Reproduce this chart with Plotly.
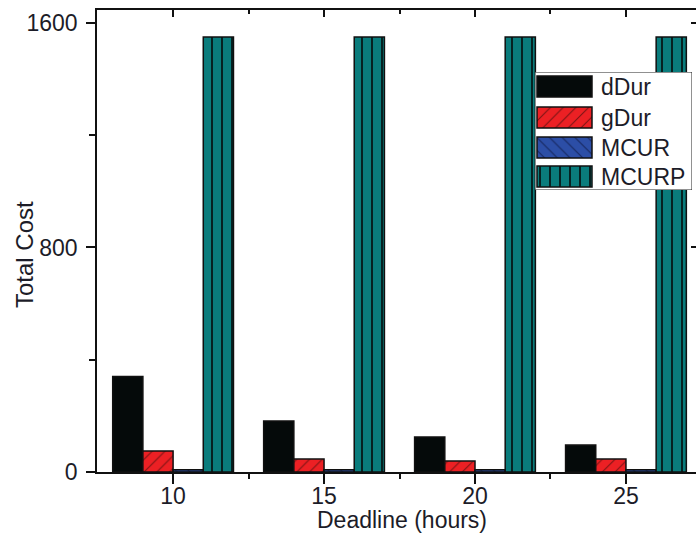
import plotly.graph_objects as go

# Deadline categories (hours) and total cost per algorithm
deadlines = [10, 15, 20, 25]
ddur = [340, 182, 125, 96]
gdur = [75, 46, 39, 46]
mcur = [8, 8, 8, 8]
mcurp = [1550, 1550, 1550, 1550]

series_names = ["dDur", "gDur", "MCUR", "MCURP"]
y_ticks = [0, 800, 1600]

FONT = "Liberation Sans, Arial, sans-serif"
TXT = "#1c1c28"
FS = 23

# fill styles: (background, pattern shape, pattern line colour, size, solidity)
styles = {
    "dDur": dict(bg="#050a0a", shape="", fg="#050a0a", size=8, sol=0.2),
    "gDur": dict(bg="#ec2024", shape="/", fg="#7a1414", size=9, sol=0.12),
    "MCUR": dict(bg="#2c4ea6", shape="\\", fg="#16275e", size=9, sol=0.12),
    "MCURP": dict(bg="#0a7c7c", shape="|", fg="#062222", size=10, sol=0.2),
}

def marker_for(name):
    s = styles[name]
    m = dict(color=s["bg"], line=dict(color="#101010", width=1.5))
    if s["shape"]:
        m["pattern"] = dict(shape=s["shape"], fgcolor=s["fg"], bgcolor=s["bg"],
                            size=s["size"], solidity=s["sol"], fillmode="replace")
    return m

fig = go.Figure()
for name, vals in zip(series_names, [ddur, gdur, mcur, mcurp]):
    fig.add_trace(go.Bar(x=deadlines, y=vals, name=name, marker=marker_for(name),
                         showlegend=False, xaxis="x", yaxis="y"))

# helper traces so the mirrored tick axes are drawn
fig.add_trace(go.Scatter(x=[deadlines[0]], y=[0], mode="markers", marker=dict(opacity=0),
                         xaxis="x2", yaxis="y", showlegend=False, hoverinfo="skip"))
fig.add_trace(go.Scatter(x=[deadlines[0]], y=[0], mode="markers", marker=dict(opacity=0),
                         xaxis="x", yaxis="y3", showlegend=False, hoverinfo="skip"))

# ---- boxed legend drawn in its own small subplot (pixel-like units) ----
BOX_W, BOX_H = 157, 118
SW_X0, SW_LEN, SW_H = 2, 55, 21
row_centers = [14.5, 45.5, 75.5, 104.5]

fig.add_trace(go.Bar(x=[BOX_W], y=[BOX_H / 2], base=[0], orientation="h",
                     width=BOX_H, offset=-BOX_H / 2,
                     marker=dict(color="white", line=dict(color="#222", width=1)),
                     xaxis="x4", yaxis="y4", showlegend=False, hoverinfo="skip"))
for name, yc in zip(series_names, row_centers):
    fig.add_trace(go.Bar(x=[SW_LEN], y=[yc], base=[SW_X0], orientation="h",
                         width=SW_H, offset=-SW_H / 2, marker=marker_for(name),
                         xaxis="x4", yaxis="y4", showlegend=False, hoverinfo="skip"))
    fig.add_annotation(x=64, y=yc, xref="x4", yref="y4", text=name, showarrow=False,
                       xanchor="left", yanchor="middle",
                       font=dict(family=FONT, size=FS, color=TXT))

W, H = 696, 534
ML, MR, MT, MB = 97, 0, 10, 62
X_RANGE = [7.48, 27.32]
Y_RANGE = [0, 1646]

def px_x(p):
    return (p - ML) / (W - ML - MR)

def px_y(p):
    return (H - MB - p) / (H - MT - MB)

axis_common = dict(showgrid=False, zeroline=False, linecolor="#111", linewidth=1.5,
                   tickcolor="#111", tickwidth=1.5,
                   tickfont=dict(family=FONT, size=FS, color=TXT))

fig.update_layout(
    width=W, height=H,
    margin=dict(l=ML, r=MR, t=MT, b=MB, pad=0),
    paper_bgcolor="white", plot_bgcolor="white",
    barmode="group", bargap=0.2, bargroupgap=0,
    showlegend=False,
    xaxis=dict(axis_common, range=X_RANGE, tickvals=deadlines, ticks="outside",
               ticklen=10, showline=True, mirror=True, ticklabelstandoff=-7,
               minor=dict(tickvals=[12.5, 17.5, 22.5], ticks="outside", ticklen=5,
                          tickcolor="#111", tickwidth=1.5)),
    yaxis=dict(axis_common, range=Y_RANGE, tickvals=y_ticks, ticks="outside",
               ticklen=9, showline=True, mirror=False, ticklabelstandoff=4,
               minor=dict(tickvals=[400, 1200], ticks="outside", ticklen=6,
                          tickcolor="#111", tickwidth=1.5)),
    xaxis2=dict(axis_common, overlaying="x", side="top", range=X_RANGE,
                tickvals=deadlines, ticks="inside", ticklen=7, showline=False,
                showticklabels=False,
                minor=dict(tickvals=[12.5, 17.5, 22.5], ticks="inside", ticklen=4,
                           tickcolor="#111", tickwidth=1.5)),
    yaxis3=dict(axis_common, overlaying="y", side="right", range=Y_RANGE,
                tickvals=y_ticks, ticks="inside", ticklen=5, showline=False,
                showticklabels=False),
    xaxis4=dict(domain=[px_x(535), px_x(692)], range=[0, BOX_W], anchor="y4",
                visible=False, fixedrange=True),
    yaxis4=dict(domain=[px_y(190), px_y(72)], range=[BOX_H, 0], anchor="x4",
                visible=False, fixedrange=True),
)

fig.add_annotation(text="Deadline (hours)", xref="paper", yref="paper",
                   x=px_x(402), y=px_y(534), showarrow=False,
                   xanchor="center", yanchor="bottom", borderpad=0,
                   font=dict(family=FONT, size=23, color=TXT))
fig.add_annotation(text="Total Cost", xref="paper", yref="paper",
                   x=px_x(24), y=px_y(255), showarrow=False, textangle=-90,
                   xanchor="center", yanchor="middle",
                   font=dict(family=FONT, size=24, color=TXT))

fig.write_html("out.html")
